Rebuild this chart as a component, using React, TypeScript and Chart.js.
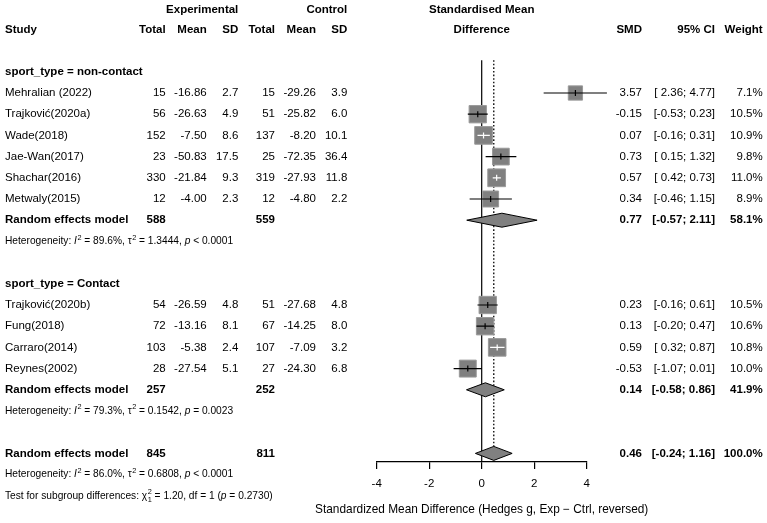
import { useEffect, useRef } from 'react';
import { Chart, registerables } from 'chart.js';

Chart.register(...registerables);

const FONT = '"Liberation Sans", Arial, Helvetica, sans-serif';
const FS = 11.5;
const FS_SMALL = 10.2;
const FS_TITLE = 11.85;

// ---------- data ----------
const studies = ['Mehralian (2022)', 'Trajković(2020a)', 'Wade(2018)', 'Jae-Wan(2017)', 'Shachar(2016)', 'Metwaly(2015)', 'Trajković(2020b)', 'Fung(2018)', 'Carraro(2014)', 'Reynes(2002)'];
const studyGroup = [0, 0, 0, 0, 0, 0, 1, 1, 1, 1];
const expTotal = [15, 56, 152, 23, 330, 12, 54, 72, 103, 28];
const expMean = [-16.86, -26.63, -7.5, -50.83, -21.84, -4.0, -26.59, -13.16, -5.38, -27.54];
const expSD = [2.7, 4.9, 8.6, 17.5, 9.3, 2.3, 4.8, 8.1, 2.4, 5.1];
const ctrlTotal = [15, 51, 137, 25, 319, 12, 51, 67, 107, 27];
const ctrlMean = [-29.26, -25.82, -8.2, -72.35, -27.93, -4.8, -27.68, -14.25, -7.09, -24.3];
const ctrlSD = [3.9, 6.0, 10.1, 36.4, 11.8, 2.2, 4.8, 8.0, 3.2, 6.8];
const smd = [3.57, -0.15, 0.07, 0.73, 0.57, 0.34, 0.23, 0.13, 0.59, -0.53];
const ciLow = [2.36, -0.53, -0.16, 0.15, 0.42, -0.46, -0.16, -0.2, 0.32, -1.07];
const ciHigh = [4.77, 0.23, 0.31, 1.32, 0.73, 1.15, 0.61, 0.47, 0.87, 0.01];
const weight = [7.1, 10.5, 10.9, 9.8, 11.0, 8.9, 10.5, 10.6, 10.8, 10.0];

const groupLabels = ['sport_type = non-contact', 'sport_type = Contact'];
const groupExpTotal = [588, 257];
const groupCtrlTotal = [559, 252];
const groupSmd = [0.77, 0.14];
const groupLow = [-0.57, -0.58];
const groupHigh = [2.11, 0.86];
const groupWeight = [58.1, 41.9];
const groupI2 = [89.6, 79.3];
const groupTau2 = [1.3444, 0.1542];
const groupP = ['< 0.0001', '= 0.0023'];

const overallExpTotal = 845;
const overallCtrlTotal = 811;
const overallSmd = 0.46;
const overallLow = -0.24;
const overallHigh = 1.16;
const overallWeight = 100.0;
const overallI2 = 86.0;
const overallTau2 = 0.6808;
const overallP = '< 0.0001';
const testChi2 = 1.2;
const testDf = 1;
const testP = 0.273;

const xTicks = [-4, -2, 0, 2, 4];
const axisTitle = 'Standardized Mean Difference (Hedges g, Exp − Ctrl, reversed)';

// ---------- row layout ----------
const ROW_HEAD1 = -3.9;
const ROW_HEAD2 = -3;
const groupHeaderRow: number[] = [];
const groupModelRow: number[] = [];
const groupHetRow: number[] = [];
const studyRow: number[] = [];
{
  let r = -1;
  for (let g = 0; g < groupLabels.length; g++) {
    groupHeaderRow.push(r);
    r++;
    studies.forEach((_, i) => {
      if (studyGroup[i] === g) {
        studyRow[i] = r;
        r++;
      }
    });
    groupModelRow.push(r);
    groupHetRow.push(r + 1);
    r += 3;
  }
}
const overallRow = groupHetRow[groupHetRow.length - 1] + 2;
const overallHetRow = overallRow + 1;
const testRow = overallRow + 2;

// column right edges (px)
const COL = { study: 5, eT: 165.7, eM: 206.7, eS: 238.3, cT: 275, cM: 316, cS: 347.3, smd: 642, ci: 715, w: 762.7 };

const SQ = 5.35; // square side scale
const DIAM_H = 7;

const f2 = (v: number) => v.toFixed(2);
const pad5 = (v: number) => {
  const s = v.toFixed(2);
  return s.length < 5 ? ' ' + s : s;
};
const ciText = (lo: number, hi: number) => `[${pad5(lo)};${pad5(hi)}]`;

type Part = [string, 'n' | 'i' | 'sup' | 'supsub'];

function drawRich(ctx: CanvasRenderingContext2D, parts: Part[], x: number, y: number, size: number) {
  let cx = x;
  ctx.textAlign = 'left';
  ctx.textBaseline = 'middle';
  for (const [t, k] of parts) {
    if (k === 'n' || k === 'i') {
      ctx.font = `${k === 'i' ? 'italic ' : ''}${size}px ${FONT}`;
      ctx.fillText(t, cx, y);
      cx += ctx.measureText(t).width;
    } else if (k === 'sup') {
      ctx.font = `${size * 0.72}px ${FONT}`;
      ctx.fillText(t, cx + 0.5, y - size * 0.38);
      cx += ctx.measureText(t).width + 0.5;
    } else {
      const [a, b] = t.split('|');
      ctx.font = `${size * 0.72}px ${FONT}`;
      ctx.fillText(a, cx + 0.5, y - size * 0.38);
      ctx.fillText(b, cx + 0.5, y + size * 0.38);
      cx += Math.max(ctx.measureText(a).width, ctx.measureText(b).width) + 0.5;
    }
  }
}

function hetParts(i2: number, tau2: number, p: string): Part[] {
  return [
    ['Heterogeneity: ', 'n'],
    ['I', 'i'],
    ['2', 'sup'],
    [` = ${i2.toFixed(1)}%, `, 'n'],
    ['τ', 'n'],
    ['2', 'sup'],
    [` = ${tau2.toFixed(4)}, `, 'n'],
    ['p', 'i'],
    [` ${p}`, 'n'],
  ];
}

const forestPlugin = {
  id: 'forest',
  beforeDatasetsDraw(chart: any) {
    const { ctx, scales, chartArea } = chart;
    const x = scales.x;
    const y = scales.y;
    const top = y.getPixelForValue(-1.55);
    ctx.save();
    ctx.strokeStyle = '#000';
    ctx.lineWidth = 1.2;
    const x0 = x.getPixelForValue(0);
    ctx.beginPath();
    ctx.moveTo(x0, top);
    ctx.lineTo(x0, chartArea.bottom);
    ctx.stroke();
    ctx.setLineDash([1.6, 2]);
    ctx.lineWidth = 1.3;
    const xo = x.getPixelForValue(overallSmd);
    ctx.beginPath();
    ctx.moveTo(xo, top);
    ctx.lineTo(xo, y.getPixelForValue(overallRow) - DIAM_H);
    ctx.stroke();
    ctx.restore();
  },
  afterDatasetsDraw(chart: any) {
    const { ctx, scales } = chart;
    const x = scales.x;
    const y = scales.y;
    ctx.save();
    // CI lines
    studies.forEach((_, i) => {
      const py = y.getPixelForValue(studyRow[i]);
      const xl = x.getPixelForValue(ciLow[i]);
      const xh = x.getPixelForValue(ciHigh[i]);
      const xm = x.getPixelForValue(smd[i]);
      const side = SQ * Math.sqrt(weight[i]);
      const inside = xh - xl < side;
      ctx.strokeStyle = inside ? '#fff' : '#000';
      ctx.lineWidth = 1.2;
      ctx.beginPath();
      ctx.moveTo(xl, py);
      ctx.lineTo(xh, py);
      ctx.moveTo(xm, py - 3);
      ctx.lineTo(xm, py + 3);
      ctx.stroke();
    });
    // diamonds
    const diamond = (est: number, lo: number, hi: number, row: number) => {
      const py = y.getPixelForValue(row);
      ctx.beginPath();
      ctx.moveTo(x.getPixelForValue(lo), py);
      ctx.lineTo(x.getPixelForValue(est), py - DIAM_H);
      ctx.lineTo(x.getPixelForValue(hi), py);
      ctx.lineTo(x.getPixelForValue(est), py + DIAM_H);
      ctx.closePath();
      ctx.fillStyle = '#808080';
      ctx.fill();
      ctx.strokeStyle = '#000';
      ctx.lineWidth = 1;
      ctx.stroke();
    };
    groupSmd.forEach((v, g) => diamond(v, groupLow[g], groupHigh[g], groupModelRow[g]));
    diamond(overallSmd, overallLow, overallHigh, overallRow);
    ctx.restore();
  },
  afterDraw(chart: any) {
    const { ctx, scales } = chart;
    const y = scales.y;
    const xc = scales.x.getPixelForValue(0);
    ctx.save();
    ctx.fillStyle = '#000';
    ctx.textBaseline = 'middle';
    const txt = (s: string, px: number, row: number, align: CanvasTextAlign, bold = false, size = FS) => {
      ctx.font = `${bold ? 'bold ' : ''}${size}px ${FONT}`;
      ctx.textAlign = align;
      ctx.fillText(s, px, y.getPixelForValue(row));
    };
    // headers
    txt('Experimental', COL.eS, ROW_HEAD1, 'right', true);
    txt('Control', COL.cS, ROW_HEAD1, 'right', true);
    txt('Standardised Mean', xc, ROW_HEAD1, 'center', true);
    txt('Study', COL.study, ROW_HEAD2, 'left', true);
    txt('Total', COL.eT, ROW_HEAD2, 'right', true);
    txt('Mean', COL.eM, ROW_HEAD2, 'right', true);
    txt('SD', COL.eS, ROW_HEAD2, 'right', true);
    txt('Total', COL.cT, ROW_HEAD2, 'right', true);
    txt('Mean', COL.cM, ROW_HEAD2, 'right', true);
    txt('SD', COL.cS, ROW_HEAD2, 'right', true);
    txt('Difference', xc, ROW_HEAD2, 'center', true);
    txt('SMD', COL.smd, ROW_HEAD2, 'right', true);
    txt('95% CI', COL.ci, ROW_HEAD2, 'right', true);
    txt('Weight', COL.w, ROW_HEAD2, 'right', true);

    // studies
    studies.forEach((name, i) => {
      const r = studyRow[i];
      txt(name, COL.study, r, 'left');
      txt(String(expTotal[i]), COL.eT, r, 'right');
      txt(f2(expMean[i]), COL.eM, r, 'right');
      txt(expSD[i].toFixed(1), COL.eS, r, 'right');
      txt(String(ctrlTotal[i]), COL.cT, r, 'right');
      txt(f2(ctrlMean[i]), COL.cM, r, 'right');
      txt(ctrlSD[i].toFixed(1), COL.cS, r, 'right');
      txt(f2(smd[i]), COL.smd, r, 'right');
      txt(ciText(ciLow[i], ciHigh[i]), COL.ci, r, 'right');
      txt(weight[i].toFixed(1) + '%', COL.w, r, 'right');
    });

    // groups
    groupLabels.forEach((lab, g) => {
      txt(lab, COL.study, groupHeaderRow[g], 'left', true);
      const r = groupModelRow[g];
      txt('Random effects model', COL.study, r, 'left', true);
      txt(String(groupExpTotal[g]), COL.eT, r, 'right', true);
      txt(String(groupCtrlTotal[g]), COL.cT, r, 'right', true);
      txt(f2(groupSmd[g]), COL.smd, r, 'right', true);
      txt(ciText(groupLow[g], groupHigh[g]), COL.ci, r, 'right', true);
      txt(groupWeight[g].toFixed(1) + '%', COL.w, r, 'right', true);
      drawRich(ctx, hetParts(groupI2[g], groupTau2[g], groupP[g]), COL.study, y.getPixelForValue(groupHetRow[g]), FS_SMALL);
    });

    // overall
    txt('Random effects model', COL.study, overallRow, 'left', true);
    txt(String(overallExpTotal), COL.eT, overallRow, 'right', true);
    txt(String(overallCtrlTotal), COL.cT, overallRow, 'right', true);
    txt(f2(overallSmd), COL.smd, overallRow, 'right', true);
    txt(ciText(overallLow, overallHigh), COL.ci, overallRow, 'right', true);
    txt(overallWeight.toFixed(1) + '%', COL.w, overallRow, 'right', true);
    drawRich(ctx, hetParts(overallI2, overallTau2, overallP), COL.study, y.getPixelForValue(overallHetRow), FS_SMALL);
    drawRich(
      ctx,
      [
        ['Test for subgroup differences: ', 'n'],
        ['χ', 'n'],
        [`2|${testDf}`, 'supsub'],
        [` = ${testChi2.toFixed(2)}, df = ${testDf} (`, 'n'],
        ['p', 'i'],
        [` = ${testP.toFixed(4)})`, 'n'],
      ],
      COL.study,
      y.getPixelForValue(testRow),
      FS_SMALL
    );

    // axis title (drawn here so that it is not squeezed to the axis width)
    ctx.font = `${FS_TITLE}px ${FONT}`;
    ctx.textAlign = 'center';
    ctx.textBaseline = 'middle';
    ctx.fillText(axisTitle, xc, 510);
    ctx.restore();
  },
};

export default function App() {
  const ref = useRef<HTMLCanvasElement>(null);
  useEffect(() => {
    document.body.style.margin = '0';
    const canvas = ref.current!;
    const chart = new Chart(canvas, {
      type: 'scatter',
      data: {
        datasets: [
          {
            data: smd.map((v, i) => ({ x: v, y: studyRow[i] })),
            pointStyle: 'rect',
            pointRadius: weight.map((w) => (SQ * Math.sqrt(w)) / Math.SQRT2),
            pointBackgroundColor: '#808080',
            pointBorderColor: '#9a9a9a',
            pointBorderWidth: 1,
            showLine: false,
            clip: false,
          } as any,
        ],
      },
      options: {
        animation: false,
        responsive: true,
        maintainAspectRatio: false,
        events: [],
        layout: { autoPadding: false, padding: { left: 376.7, right: 767 - 586.7, top: 0, bottom: 24.2 } },
        plugins: { legend: { display: false }, tooltip: { enabled: false } },
        scales: {
          x: {
            type: 'linear',
            min: -4,
            max: 4,
            afterBuildTicks: (s: any) => {
              s.ticks = xTicks.map((v) => ({ value: v }));
            },
            ticks: { color: '#000', font: { family: FONT, size: FS }, padding: 8, maxRotation: 0 },
            grid: { display: true, drawOnChartArea: false, drawTicks: true, tickLength: 7, color: '#000', tickColor: '#000', lineWidth: 1.2 },
            border: { display: true, color: '#000', width: 1.2 },
            title: { display: false },
          },
          y: {
            type: 'linear',
            display: false,
            reverse: true,
            min: -4.387,
            max: 17.406,
          },
        },
      },
      plugins: [forestPlugin],
    } as any);
    return () => chart.destroy();
  }, []);
  return (
    <div style={{ width: 767, height: 523, position: 'relative' }}>
      <canvas ref={ref} />
    </div>
  );
}
